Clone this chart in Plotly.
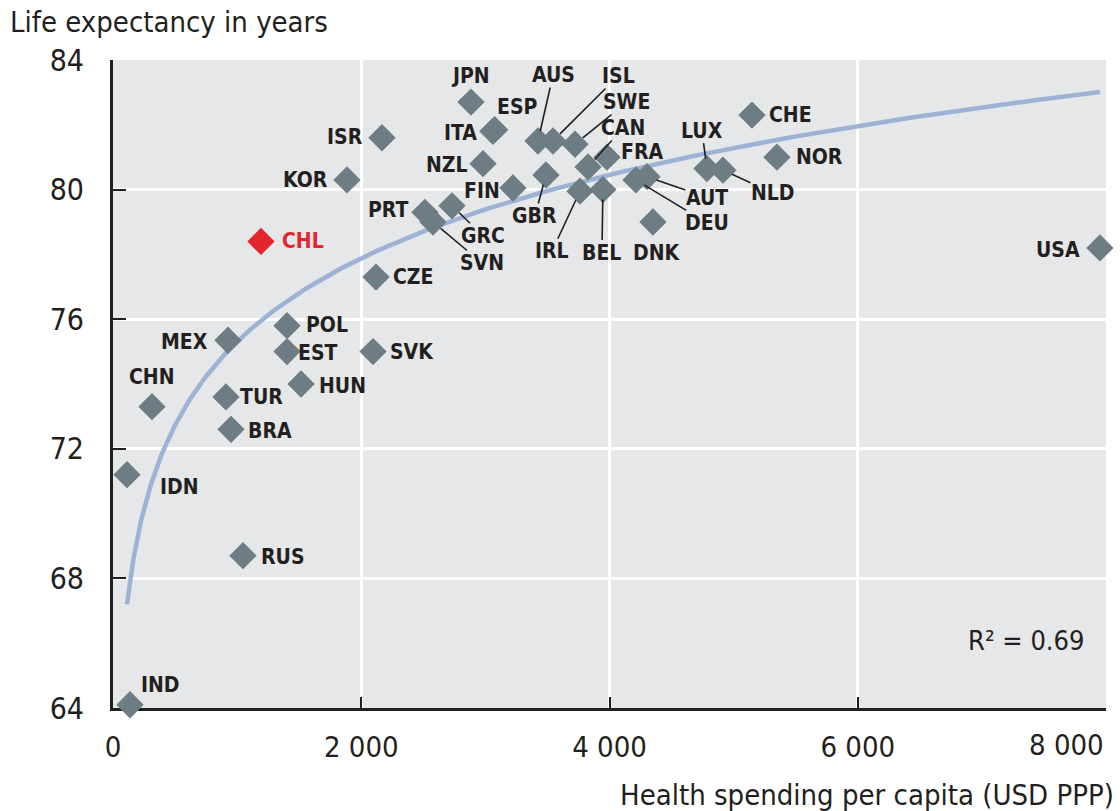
import numpy as np
import plotly.graph_objects as go

# Country codes, health spending per capita (USD PPP) and life expectancy (years)
countries = ["JPN", "ITA", "ESP", "NZL", "ISR", "KOR", "CHL", "PRT", "SVN", "GRC",
             "FIN", "GBR", "AUS", "ISL", "SWE", "CAN", "FRA", "IRL", "BEL", "DNK",
             "AUT", "DEU", "LUX", "NLD", "CHE", "NOR", "USA", "CZE", "POL", "EST",
             "SVK", "HUN", "MEX", "CHN", "TUR", "BRA", "IDN", "RUS", "IND"]
spending = [2884, 3060, 3075, 2981, 2167, 1885, 1192, 2513, 2578, 2731,
            3222, 3488, 3424, 3545, 3722, 3827, 3980, 3762, 3947, 4350,
            4302, 4213, 4785, 4914, 5148, 5349, 7951, 2119, 1402, 1402,
            2095, 1515, 926, 314, 910, 951, 113, 1047, 137]
life_exp = [82.7, 81.8, 81.85, 80.8, 81.6, 80.3, 78.4, 79.3, 79.0, 79.5,
            80.05, 80.45, 81.5, 81.5, 81.4, 80.7, 81.0, 79.95, 80.0, 79.0,
            80.4, 80.3, 80.65, 80.6, 82.3, 81.0, 78.2, 77.3, 75.8, 75.0,
            75.0, 74.0, 75.35, 73.3, 73.6, 72.6, 71.2, 68.7, 64.1]
highlight = "CHL"

x_ticks = [0, 2000, 4000, 6000, 8000]
x_tick_text = ["0", "2 000", "4 000", "6 000", "8 000"]
y_ticks = [64, 68, 72, 76, 80, 84]
r2_text = "R² = 0.69"

# Label placement in pixels relative to each marker: (dx, dy, draw leader line)
label_pos = {
    "JPN": (0, -26, False), "ITA": (-32, 2, False), "ESP": (23, -23, False),
    "NZL": (-36, 1, False), "ISR": (-37, -1, False), "KOR": (-41, 0, False),
    "CHL": (42, 0, False), "PRT": (-37, -2, False), "FIN": (-31, 3, False),
    "GBR": (-11, 41, True), "AUS": (15, -66, True), "ISL": (65, -65, True),
    "SWE": (52, -42, True), "CAN": (35, -39, True), "FRA": (35, -5, False),
    "IRL": (-28, 60, True), "BEL": (-1, 63, True), "DNK": (4, 31, False),
    "AUT": (60, 21, True), "DEU": (71, 43, True), "LUX": (-5, -38, True),
    "NLD": (50, 23, True), "CHE": (38, 0, False), "NOR": (43, 0, False),
    "GRC": (31, 30, True), "SVN": (49, 41, True), "CZE": (37, 0, False),
    "POL": (40, -1, False), "EST": (31, 1, False), "SVK": (39, 0, False),
    "HUN": (41, 2, False), "MEX": (-43, 2, False), "CHN": (0, -30, False),
    "TUR": (36, 0, False), "BRA": (39, 2, False), "IDN": (52, 12, False),
    "RUS": (40, 1, False), "IND": (30, -20, False), "USA": (-42, 2, False),
}

FONT = "DejaVu Sans Condensed, DejaVu Sans, Arial Narrow, sans-serif"
INK = "#231f20"
GREY_MARK = "#6d7d83"
RED_MARK = "#e3262d"
TREND = "#9db3d6"
PLOT_BG = "#e6e7e8"

x = np.array(spending, dtype=float)
y = np.array(life_exp, dtype=float)

# Logarithmic trend fitted to the observations
slope, intercept = np.polyfit(np.log(x), y, 1)
trend_x = np.geomspace(x.min(), x.max(), 200)
trend_y = intercept + slope * np.log(trend_x)

fig = go.Figure()
fig.add_trace(go.Scatter(
    x=trend_x, y=trend_y, mode="lines",
    line=dict(color=TREND, width=4.5), hoverinfo="skip", showlegend=False,
))
fig.add_trace(go.Scatter(
    x=spending, y=life_exp, mode="markers", text=countries,
    marker=dict(symbol="diamond", size=21,
                color=[RED_MARK if c == highlight else GREY_MARK for c in countries],
                line=dict(width=0)),
    cliponaxis=False, showlegend=False,
))

annotations = []
for c, xv, yv in zip(countries, spending, life_exp):
    dx, dy, leader = label_pos[c]
    color = RED_MARK if c == highlight else INK
    font = dict(family=FONT, size=21, color=color, weight="bold")
    if leader:
        annotations.append(dict(
            x=xv, y=yv, text=c, showarrow=True, arrowhead=0, arrowwidth=1.6,
            arrowcolor=INK, ax=dx, ay=dy, standoff=10, font=font,
            borderpad=0,
        ))
    else:
        annotations.append(dict(
            x=xv, y=yv, text=c, showarrow=False, xshift=dx, yshift=-dy,
            font=font,
        ))

# Last x tick label sits inside the plot width
annotations.append(dict(
    x=x_ticks[-1], y=0, xref="x", yref="paper", text=x_tick_text[-1],
    showarrow=False, xanchor="right", yanchor="middle", yshift=-37,
    font=dict(family=FONT, size=29, color=INK),
))
annotations.append(dict(
    x=0, y=1, xref="paper", yref="paper", text="Life expectancy in years",
    showarrow=False, xanchor="left", yanchor="middle", xshift=-105, yshift=38,
    font=dict(family=FONT, size=29, color=INK),
))
annotations.append(dict(
    x=1, y=0, xref="paper", yref="paper",
    text="Health spending per capita (USD PPP)",
    showarrow=False, xanchor="right", yanchor="middle", xshift=10, yshift=-87,
    font=dict(family=FONT, size=29, color=INK),
))
annotations.append(dict(
    x=1, y=0, xref="paper", yref="paper", text=r2_text,
    showarrow=False, xanchor="right", yanchor="middle", xshift=-20, yshift=68,
    font=dict(family=FONT, size=27, color=INK),
))

fig.update_layout(
    width=1120, height=811,
    margin=dict(l=113, r=14, t=60, b=103),
    paper_bgcolor="white", plot_bgcolor=PLOT_BG,
    annotations=annotations, showlegend=False,
    xaxis=dict(
        range=[0, 8000], tickvals=x_ticks,
        ticktext=x_tick_text[:-1] + [""],
        ticks="inside", ticklen=11, tickwidth=2, tickcolor=INK,
        showline=True, linewidth=3, linecolor=INK,
        showgrid=True, gridcolor="white", gridwidth=2.5, zeroline=False,
        tickfont=dict(family=FONT, size=29, color=INK),
        ticklabelstandoff=11, layer="below traces",
    ),
    yaxis=dict(
        range=[64, 84], tickvals=y_ticks,
        ticks="inside", ticklen=13, tickwidth=2, tickcolor=INK,
        showline=True, linewidth=3, linecolor=INK,
        showgrid=True, gridcolor="white", gridwidth=2.5, zeroline=False,
        tickfont=dict(family=FONT, size=30, color=INK),
        ticklabelstandoff=20, layer="below traces",
    ),
)

fig.write_html("out.html")
